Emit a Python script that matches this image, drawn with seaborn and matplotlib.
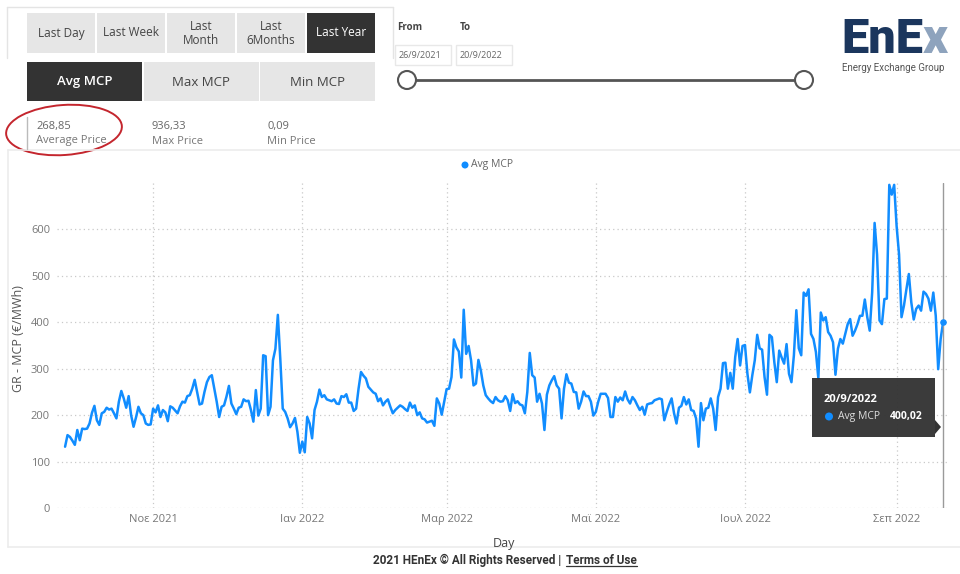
import pandas as pd
import seaborn as sns
import matplotlib.pyplot as plt
from matplotlib.patches import Rectangle, Ellipse, Circle, Polygon

# ---- data ----
start_date = "2021-09-26"
end_date = "2022-09-20"
avg_mcp = [
    132, 157, 153, 145, 136, 168, 146, 171, 170, 171,
    182, 205, 220, 189, 179, 204, 207, 216, 212, 214,
    204, 193, 229, 252, 236, 216, 241, 200, 175, 195,
    218, 204, 200, 182, 179, 180, 214, 206, 221, 196,
    211, 206, 187, 219, 216, 210, 204, 219, 229, 227,
    241, 243, 257, 276, 250, 223, 225, 250, 271, 282,
    286, 257, 229, 196, 218, 221, 240, 263, 225, 214,
    202, 216, 218, 234, 230, 231, 211, 186, 254, 199,
    214, 329, 327, 200, 218, 318, 343, 416, 321, 214,
    207, 193, 174, 182, 194, 164, 119, 143, 120, 196,
    182, 150, 211, 229, 255, 239, 243, 234, 232, 230,
    234, 225, 224, 241, 239, 245, 227, 227, 209, 214,
    257, 293, 285, 279, 261, 255, 249, 246, 230, 236,
    221, 229, 234, 218, 204, 211, 216, 221, 218, 213,
    209, 227, 216, 221, 200, 206, 193, 191, 184, 186,
    188, 177, 236, 225, 201, 229, 256, 257, 282, 363,
    346, 337, 281, 427, 332, 349, 318, 264, 268, 319,
    296, 264, 243, 236, 230, 226, 239, 232, 229, 230,
    241, 232, 209, 245, 226, 230, 223, 221, 204, 250,
    334, 286, 281, 229, 246, 225, 168, 244, 264, 275,
    284, 264, 257, 193, 257, 288, 270, 268, 250, 249,
    214, 229, 251, 241, 241, 229, 199, 207, 229, 246,
    246, 246, 237, 196, 196, 239, 229, 238, 232, 251,
    234, 225, 239, 232, 221, 211, 218, 201, 223, 225,
    226, 232, 234, 236, 234, 189, 207, 223, 236, 204,
    182, 216, 220, 239, 223, 234, 211, 209, 193, 132,
    226, 189, 214, 216, 236, 214, 168, 239, 257, 312,
    313, 257, 291, 257, 325, 364, 307, 349, 351, 289,
    249, 286, 318, 373, 344, 341, 282, 244, 373, 368,
    314, 271, 339, 324, 311, 353, 289,
    271, 329, 426, 344, 329, 464, 457, 471, 375, 364,
    336, 279, 421, 404, 411, 379, 371, 357, 287, 343,
    364, 354, 375, 396, 407, 371, 382, 396, 414, 414,
    449, 411, 382, 464, 614, 546, 404, 396, 450, 451,
    696, 675, 696, 607, 546, 411, 436, 471, 504, 443,
    406, 429, 436, 425, 466, 461, 451, 425, 464, 414,
    299, 364, 400,
]

month_ticks = ["2021-11-01", "2022-01-01", "2022-03-01",
               "2022-05-01", "2022-07-01", "2022-09-01"]
month_labels = ["Νοε 2021", "Ιαν 2022", "Μαρ 2022", "Μαϊ 2022", "Ιουλ 2022", "Σεπ 2022"]
y_ticks = [0, 100, 200, 300, 400, 500, 600]

period_buttons = ["Last Day", "Last Week", "Last\nMonth", "Last\n6Months", "Last Year"]
measure_buttons = ["Avg MCP", "Max MCP", "Min MCP"]
kpi_values = ["268,85", "936,33", "0,09"]
kpi_labels = ["Average Price", "Max Price", "Min Price"]
date_from = "26/9/2021"
date_to = "20/9/2022"
tooltip_date = "20/9/2022"
tooltip_value = "400,02"

df = pd.DataFrame({"Day": pd.date_range(start_date, end_date, freq="D"),
                   "Avg MCP": avg_mcp})

BLUE = "#118DFF"
DARK = "#333333"
LIGHT = "#e6e6e6"

sns.set_theme(style="white")
plt.rcParams["font.family"] = ["Open Sans", "DejaVu Sans"]

W, H = 960, 574
fig = plt.figure(figsize=(9.6, 5.74), dpi=100)
fig.patch.set_facecolor("white")

# background layer in pixel coordinates (y grows downward)
bg = fig.add_axes([0, 0, 1, 1], zorder=0)
bg.set_xlim(0, W)
bg.set_ylim(H, 0)
bg.axis("off")

# panel borders
bg.plot([7, 393], [7, 7], color="#e4e4e4", lw=1)
bg.plot([7, 7], [7, 58], color="#e4e4e4", lw=1)
bg.plot([393, 393], [7, 58], color="#e4e4e4", lw=1)
bg.plot([8, 960], [150, 150], color="#ececec", lw=1.2)
bg.plot([8, 8], [150, 547], color="#ececec", lw=1.2)
bg.plot([8, 960], [547, 547], color="#ececec", lw=1.2)

# period buttons
for i, label in enumerate(period_buttons):
    x0 = 27 + i * 70
    active = label == "Last Year"
    bg.add_patch(Rectangle((x0, 13), 68, 40, facecolor=DARK if active else LIGHT, edgecolor="none"))
    bg.text(x0 + 34, 33, label, ha="center", va="center", fontsize=8.5,
            color="white" if active else "#444444", linespacing=1.1)

# measure buttons
for i, label in enumerate(measure_buttons):
    x0 = 27 + i * 116.5
    active = i == 0
    bg.add_patch(Rectangle((x0, 62), 115, 39, facecolor=DARK if active else LIGHT, edgecolor="none"))
    bg.text(x0 + 57.5, 82, label, ha="center", va="center", fontsize=9.5,
            color="white" if active else "#444444", fontweight="semibold" if active else "normal")

# KPI cards
bg.plot([27, 27], [117, 149], color="#bbbbbb", lw=1)
for i, (val, lab) in enumerate(zip(kpi_values, kpi_labels)):
    x0 = 36 + i * 115.5
    bg.text(x0, 126, val, ha="left", va="center", fontsize=8, color="#666666")
    bg.text(x0, 141, lab, ha="left", va="center", fontsize=8, color="#777777")
bg.add_patch(Ellipse((64, 130), 116, 50, angle=-4, fill=False, edgecolor="#c4262e", lw=1.4))

# date range slicer
bg.text(397, 28, "From", ha="left", va="center", fontsize=7, color="#444444", fontweight="bold")
bg.text(460, 28, "To", ha="left", va="center", fontsize=7, color="#444444", fontweight="bold")
for x0, txt in [(395, date_from), (456, date_to)]:
    bg.add_patch(Rectangle((x0, 45), 56, 20, facecolor="white", edgecolor="#e8e8e8", lw=1))
    bg.text(x0 + 4, 55.5, txt, ha="left", va="center", fontsize=6.5, color="#666666")
bg.plot([407, 804], [80, 80], color="#555555", lw=2, zorder=2)
for cx in (407, 804):
    bg.add_patch(Circle((cx, 80), 9, facecolor="white", edgecolor="#555555", lw=1.5, zorder=3))

# logo
logo = bg.text(841, 53, "EnE", ha="left", va="baseline", fontsize=35,
               fontweight="heavy", color="#1b365d", family=["Roboto", "DejaVu Sans"])
bg.text(842, 68, "Energy Exchange Group", ha="left", va="center", fontsize=7,
        color="#555555", family=["Roboto", "DejaVu Sans"])

# footer
foot_left = bg.text(564, 560, "2021 HEnEx © All Rights Reserved | ", ha="right", va="center",
                    fontsize=8.5, color="#333333", fontweight="bold", family=["Roboto", "DejaVu Sans"])
foot_link = bg.text(566, 560, "Terms of Use", ha="left", va="center",
                    fontsize=8.5, color="#333333", fontweight="bold", family=["Roboto", "DejaVu Sans"])

# legend
bg.add_patch(Circle((465, 165), 3.5, facecolor=BLUE, edgecolor="none"))
bg.text(471, 165, "Avg MCP", ha="left", va="center", fontsize=7.5, color="#666666")

# ---- the line chart ----
ax = fig.add_axes([57 / W, 1 - 508 / H, (947 - 57) / W, (508 - 183) / H], zorder=1)
ax.patch.set_alpha(0)
sns.lineplot(data=df, x="Day", y="Avg MCP", ax=ax, color=BLUE, linewidth=1.8)
ax.scatter([df["Day"].iloc[-1]], [df["Avg MCP"].iloc[-1]], s=14, color=BLUE, zorder=4)
ax.axvline(df["Day"].iloc[-1], color="#9a9a9a", lw=1, zorder=3)

ax.set_xlim(pd.Timestamp(start_date) - pd.Timedelta(days=3.3),
            pd.Timestamp(end_date) + pd.Timedelta(days=1.6))
ax.set_ylim(0, 700)
ax.set_yticks(y_ticks)
ax.set_xticks(pd.to_datetime(month_ticks))
ax.set_xticklabels(month_labels)
ax.grid(True, color="#c9c9c9", linestyle=(0, (1, 2.5)), linewidth=0.9)
for s in ax.spines.values():
    s.set_visible(False)
ax.tick_params(axis="both", length=0, labelsize=8, labelcolor="#777777")
ax.tick_params(axis="y", pad=5)
ax.tick_params(axis="x", pad=4)
ax.set_ylabel("GR - MCP (€/MWh)", fontsize=9, color="#555555")
ax.set_xlabel("Day", fontsize=9, color="#444444")
ax.yaxis.set_label_coords((25 - 57) / 890, 0.52)
ax.xaxis.set_label_coords((504 - 57) / 890, (508 - 537) / 325)

# ---- tooltip overlay ----
top = fig.add_axes([0, 0, 1, 1], zorder=5)
top.set_xlim(0, W)
top.set_ylim(H, 0)
top.axis("off")
top.add_patch(Rectangle((812, 378), 123, 59, facecolor="#333333", edgecolor="none", alpha=0.96))
top.add_patch(Polygon([(935, 420), (941, 427), (935, 434)], facecolor="#333333", edgecolor="none"))
top.text(824, 399, tooltip_date, ha="left", va="center", fontsize=8, color="white", fontweight="bold")
top.add_patch(Circle((829, 416.5), 4, facecolor=BLUE, edgecolor="none"))
top.text(838, 417, "Avg MCP", ha="left", va="center", fontsize=7.5, color="#dddddd")
top.text(890, 417, tooltip_value, ha="left", va="center", fontsize=7.5, color="white", fontweight="bold")

# place the light "x" of the logo and the underline of the link from measured text extents
fig.canvas.draw()
renderer = fig.canvas.get_renderer()
inv = bg.transData.inverted()
ext = logo.get_window_extent(renderer)
x_end = inv.transform((ext.x1, ext.y0))[0]
bg.text(x_end, 53, "x", ha="left", va="baseline", fontsize=35, fontweight="heavy",
        color="#8ea3bd", family=["Roboto", "DejaVu Sans"])
ext = foot_link.get_window_extent(renderer)
(lx0, ly0), (lx1, _) = inv.transform((ext.x0, ext.y0)), inv.transform((ext.x1, ext.y0))
bg.plot([lx0, lx1], [ly0 - 0.5, ly0 - 0.5], color="#333333", lw=0.9)

fig.savefig("out.png", dpi=100)
